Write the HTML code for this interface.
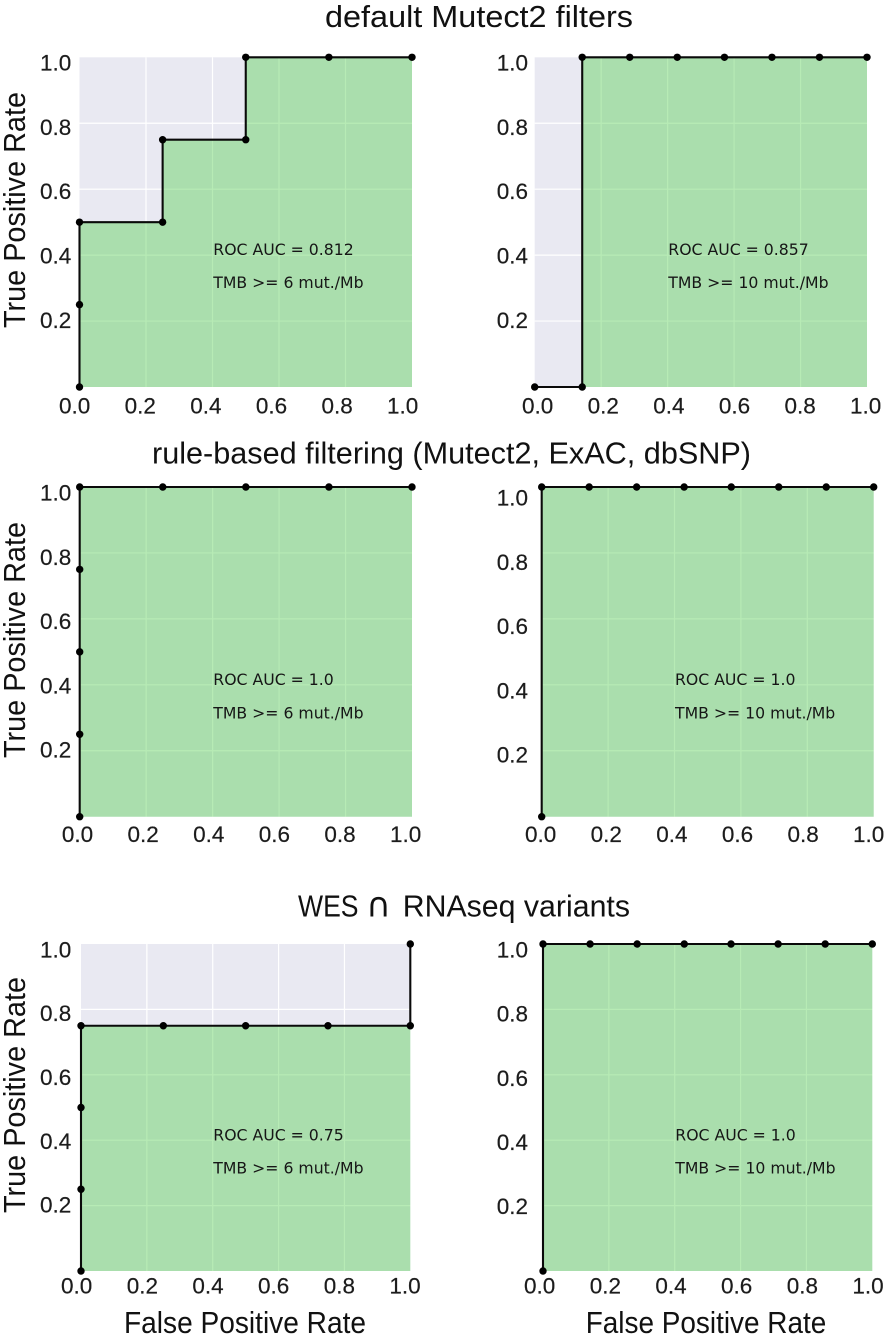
<!DOCTYPE html>
<html lang="en">
<head>
<meta charset="utf-8">
<title>ROC curves for TMB thresholds</title>
<style>
  html, body { margin: 0; padding: 0; background: #fff; }
  body { width: 886px; height: 1337px; overflow: hidden; }
  svg { display: block; font-family: "Liberation Sans", sans-serif; fill: #111; }
  .title, .axis-title { font-size: 31px; }
  .intersect { font-family: "DejaVu Sans", sans-serif; font-size: 34px; }
  .tick { font-size: 22.5px; fill: #1c1c1c; stroke: #1c1c1c; stroke-width: 0.2px; }
  .note { font-family: "DejaVu Sans", "Liberation Sans", sans-serif; font-size: 15.7px; fill: #161616; }
</style>
</head>
<body>
<svg id="figure" xmlns="http://www.w3.org/2000/svg" width="886" height="1337" viewBox="0 0 886 1337">
  <text class="title" x="325" y="27" textLength="308" lengthAdjust="spacingAndGlyphs">default Mutect2 filters</text>
  <text class="title" x="152" y="463.3" textLength="599" lengthAdjust="spacingAndGlyphs">rule-based filtering (Mutect2, ExAC, dbSNP)</text>
  <text class="title" y="916.7"><tspan x="298" textLength="60.5" lengthAdjust="spacingAndGlyphs">WES</tspan><tspan class="intersect" x="365.5"> </tspan><tspan class="intersect" x="366">∩</tspan><tspan x="402.7" textLength="227.3" lengthAdjust="spacingAndGlyphs">RNAseq variants</tspan></text>
  <text class="axis-title" transform="translate(25,328) rotate(-90)" textLength="236" lengthAdjust="spacingAndGlyphs">True Positive Rate</text>
  <text class="axis-title" transform="translate(25,758) rotate(-90)" textLength="236" lengthAdjust="spacingAndGlyphs">True Positive Rate</text>
  <text class="axis-title" transform="translate(25,1213) rotate(-90)" textLength="236" lengthAdjust="spacingAndGlyphs">True Positive Rate</text>
  <text class="axis-title" x="124" y="1333" textLength="242" lengthAdjust="spacingAndGlyphs">False Positive Rate</text>
  <text class="axis-title" x="585.7" y="1333" textLength="240.6" lengthAdjust="spacingAndGlyphs">False Positive Rate</text>
</svg>
<script>
// Tick values
const xTickValues = [0, 0.2, 0.4, 0.6, 0.8, 1];
const yTickValues = [0.2, 0.4, 0.6, 0.8, 1];
const gridValues = [0.2, 0.4, 0.6, 0.8];

// Series values
const mutect6Fpr = [0, 0, 0, 0.25, 0.25, 0.5, 0.5, 0.75, 1];
const mutect6Tpr = [0, 0.25, 0.5, 0.5, 0.75, 0.75, 1, 1, 1];
const mutect10Fpr = [0, 0.143, 0.143, 0.286, 0.429, 0.571, 0.714, 0.857, 1];
const mutect10Tpr = [0, 0, 1, 1, 1, 1, 1, 1, 1];
const rule6Fpr = [0, 0, 0, 0, 0, 0.25, 0.5, 0.75, 1];
const rule6Tpr = [0, 0.25, 0.5, 0.75, 1, 1, 1, 1, 1];
const rule10Fpr = [0, 0, 0.143, 0.286, 0.429, 0.571, 0.714, 0.857, 1];
const rule10Tpr = [0, 1, 1, 1, 1, 1, 1, 1, 1];
const wes6Fpr = [0, 0, 0, 0, 0.25, 0.5, 0.75, 1, 1];
const wes6Tpr = [0, 0.25, 0.5, 0.75, 0.75, 0.75, 0.75, 0.75, 1];
const wes10Fpr = [0, 0, 0.143, 0.286, 0.429, 0.571, 0.714, 0.857, 1];
const wes10Tpr = [0, 1, 1, 1, 1, 1, 1, 1, 1];

// Printed annotations
const aucLabels = ["ROC AUC = 0.812", "ROC AUC = 0.857", "ROC AUC = 1.0", "ROC AUC = 1.0", "ROC AUC = 0.75", "ROC AUC = 1.0"];
const tmbLabels = ["TMB >= 6 mut./Mb", "TMB >= 10 mut./Mb", "TMB >= 6 mut./Mb", "TMB >= 10 mut./Mb", "TMB >= 6 mut./Mb", "TMB >= 10 mut./Mb"];

// Layout of each panel (separate from data)
const panels = [
  {id:"mutect-tmb6", fpr:mutect6Fpr, tpr:mutect6Tpr, x0:79.5, x1:412, yb:387, yt:57.3, lx0:74.7, lx1:402.7, lxY:413.3, ly0:384, ly1:62, lyR:71.3, noteX:213.3, noteY1:255, noteY2:288},
  {id:"mutect-tmb10", fpr:mutect10Fpr, tpr:mutect10Tpr, x0:534.7, x1:867, yb:387, yt:57.3, lx0:537.7, lx1:865.7, lxY:413.3, ly0:384, ly1:62, lyR:528, noteX:668.3, noteY1:255, noteY2:288},
  {id:"rule-tmb6", fpr:rule6Fpr, tpr:rule6Tpr, x0:79.7, x1:412, yb:816.7, yt:487, lx0:77.5, lx1:405.7, lxY:842, ly0:813.5, ly1:492.3, lyR:71.3, noteX:213.3, noteY1:685, noteY2:718.3},
  {id:"rule-tmb10", fpr:rule10Fpr, tpr:rule10Tpr, x0:541.7, x1:873.7, yb:816.7, yt:487, lx0:540.7, lx1:868.7, lxY:842, ly0:818.3, ly1:497.3, lyR:528, noteX:675, noteY1:685, noteY2:718.3},
  {id:"wes-tmb6", fpr:wes6Fpr, tpr:wes6Tpr, x0:81, x1:410.3, yb:1271, yt:944, lx0:76.7, lx1:405, lxY:1293.3, ly0:1268, ly1:949, lyR:71.3, noteX:213.3, noteY1:1140.3, noteY2:1173.3},
  {id:"wes-tmb10", fpr:wes10Fpr, tpr:wes10Tpr, x0:543, x1:872.3, yb:1271, yt:944, lx0:539.7, lx1:868, lxY:1293.3, ly0:1270, ly1:949, lyR:528, noteX:675.3, noteY1:1140.3, noteY2:1173.3}
];

const NS = "http://www.w3.org/2000/svg";
const figure = document.getElementById("figure");

function make(tag, parent, attrs, text) {
  const node = document.createElementNS(NS, tag);
  for (const key in attrs) node.setAttribute(key, attrs[key]);
  if (text !== undefined) node.textContent = text;
  parent.appendChild(node);
  return node;
}

panels.forEach(function (p, index) {
  const sx = function (v) { return p.x0 + v * (p.x1 - p.x0); };
  const sy = function (v) { return p.yb + v * (p.yt - p.yb); };
  const labelX = function (v) { return p.lx0 + v * (p.lx1 - p.lx0); };
  const labelY = function (v) { return p.ly0 + v * (p.ly1 - p.ly0); };

  const group = make("g", figure, {});
  
  

  const plotBg = make("rect", group, {x: sx(0), y: sy(1), width: sx(1) - sx(0), height: sy(0) - sy(1), fill: "#e9e9f2"});
  
  

  gridValues.forEach(function (v) {
    const gx = make("line", group, {x1: sx(v), x2: sx(v), y1: sy(0), y2: sy(1), stroke: "#fff", "stroke-width": 1.2});
    
    
    const gy = make("line", group, {x1: sx(0), x2: sx(1), y1: sy(v), y2: sy(v), stroke: "#fff", "stroke-width": 1.2});
    
    
  });

  const curve = p.fpr.map(function (f, i) { return sx(f).toFixed(2) + "," + sy(p.tpr[i]).toFixed(2); });
  const lastFpr = p.fpr[p.fpr.length - 1];
  const areaPoints = curve.concat([sx(lastFpr).toFixed(2) + "," + sy(0).toFixed(2)]).join(" ");

  const area = make("polygon", group, {points: areaPoints, fill: "rgb(76,206,70)", "fill-opacity": 0.4});
  
  

  const line = make("polyline", group, {points: curve.join(" "), fill: "none", stroke: "#0a0a0a", "stroke-width": 2.1});
  
  

  p.fpr.forEach(function (f, i) {
    const dot = make("circle", group, {cx: sx(f), cy: sy(p.tpr[i]), r: 3.7, fill: "#000"});
    
    
  });

  xTickValues.forEach(function (v) {
    const t = make("text", group, {"class": "tick", x: labelX(v), y: p.lxY, "text-anchor": "middle"}, v.toFixed(1));
    
    
  });
  yTickValues.forEach(function (v) {
    const t = make("text", group, {"class": "tick", x: p.lyR, y: labelY(v) + 8.4, "text-anchor": "end"}, v.toFixed(1));
    
    
  });

  const auc = make("text", group, {"class": "note", x: p.noteX, y: p.noteY1}, aucLabels[index]);
  
  
  const tmb = make("text", group, {"class": "note", x: p.noteX, y: p.noteY2}, tmbLabels[index]);
  
  
});
</script>
</body>
</html>
